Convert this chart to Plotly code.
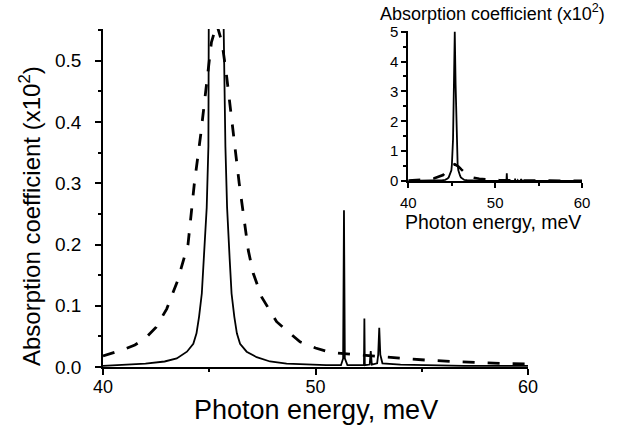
import plotly.graph_objects as go

# Photon energy (meV) and absorption coefficient (x10^2)
solid_x = [40.0, 41.0, 42.0, 42.9, 43.47, 43.95, 44.25, 44.4, 44.52, 44.65, 44.74, 44.88,
           44.96, 45.02, 45.15, 45.25, 45.35, 45.45, 45.55, 45.68, 45.76, 45.84, 45.96,
           46.05, 46.18, 46.3, 46.45, 46.76, 47.23, 47.86, 48.64, 49.9, 50.5, 51.2,
           51.3, 51.34, 51.38, 51.5, 52.28, 52.3, 52.32, 52.55, 52.6, 52.65, 52.9,
           52.95, 53.0, 53.05, 53.15, 54.0, 55.0, 57.0, 60.0]
solid_y = [0.002, 0.004, 0.0055, 0.009, 0.014, 0.025, 0.038, 0.055, 0.082, 0.12, 0.177, 0.26,
           0.36, 0.55, 1.4, 3.2, 5.0, 3.2, 1.4, 0.55, 0.36, 0.26, 0.177,
           0.12, 0.082, 0.055, 0.038, 0.025, 0.016, 0.009, 0.0055, 0.003, 0.003, 0.003,
           0.014, 0.256, 0.014, 0.003, 0.003, 0.079, 0.003, 0.004, 0.026, 0.004, 0.006,
           0.02, 0.064, 0.02, 0.006, 0.004, 0.003, 0.002, 0.002]

dashed_x = [40.0, 40.5, 41.0, 41.5, 42.0, 42.5, 43.0, 43.5, 44.0, 44.3, 44.6, 44.9,
            45.1, 45.35, 45.6, 45.8, 46.1, 46.41, 46.84, 47.07, 47.47, 48.17, 49.27,
            50.0, 50.5, 51.0, 51.75, 52.8, 54.0, 55.3, 56.5, 57.8, 59.0, 60.0]
dashed_y = [0.018, 0.023, 0.029, 0.036, 0.047, 0.065, 0.095, 0.14, 0.2, 0.3, 0.38, 0.47,
            0.53, 0.56, 0.53, 0.48, 0.39, 0.3, 0.19, 0.153, 0.114, 0.074, 0.041,
            0.031, 0.026, 0.023, 0.0207, 0.0175, 0.014, 0.011, 0.009, 0.007, 0.0055, 0.005]

main_xticks = [40, 50, 60]
main_yticks = [0.0, 0.1, 0.2, 0.3, 0.4, 0.5]
inset_xticks = [40, 50, 60]
inset_yticks = [0, 1, 2, 3, 4, 5]

FONT = "Arial, Liberation Sans, sans-serif"
DASH = "12px,13px"

fig = go.Figure()
fig.add_trace(go.Scatter(x=dashed_x, y=dashed_y, mode="lines",
                         line=dict(color="black", width=2.8, dash=DASH),
                         xaxis="x", yaxis="y", showlegend=False))
fig.add_trace(go.Scatter(x=solid_x, y=solid_y, mode="lines",
                         line=dict(color="black", width=1.8),
                         xaxis="x", yaxis="y", showlegend=False))
fig.add_trace(go.Scatter(x=dashed_x, y=dashed_y, mode="lines",
                         line=dict(color="black", width=2.6, dash=DASH),
                         xaxis="x2", yaxis="y2", showlegend=False))
fig.add_trace(go.Scatter(x=solid_x, y=solid_y, mode="lines",
                         line=dict(color="black", width=1.8),
                         xaxis="x2", yaxis="y2", showlegend=False))

W, H = 629, 432
L, R, T, B = 103, 47, 29, 65
pw, ph = W - L - R, H - T - B


def px(x):
    return (x - L) / pw


def py(y):
    return (H - B - y) / ph


axis_common = dict(showline=True, linecolor="black", linewidth=1.8, ticks="outside",
                   tickcolor="black", tickwidth=1.5, showgrid=False, zeroline=False,
                   mirror=False)

fig.update_layout(
    width=W, height=H,
    margin=dict(l=L, r=R, t=T, b=B, autoexpand=False),
    paper_bgcolor="white", plot_bgcolor="rgba(0,0,0,0)",
    font=dict(family=FONT, color="black"),
    xaxis=dict(domain=[0, px(528)], range=[40, 60], tickvals=main_xticks,
               ticklen=6, tickfont=dict(size=18), anchor="y", ticklabelstandoff=-4,
               minor=dict(dtick=5, tick0=40, ticklen=3, ticks="outside", tickcolor="black", tickwidth=1.5),
               **axis_common),
    yaxis=dict(domain=[0, 1], range=[0, 0.552], tickvals=main_yticks, tickformat=".1f",
               ticklen=6, tickfont=dict(size=19), anchor="x", ticklabelstandoff=10,
               minor=dict(dtick=0.05, tick0=0, ticklen=3, ticks="outside", tickcolor="black", tickwidth=1.5),
               **axis_common),
    xaxis2=dict(domain=[px(408.3), 1.0], range=[40, 60], tickvals=inset_xticks,
                ticklen=5, tickfont=dict(size=15), anchor="y2", ticklabelstandoff=2,
                minor=dict(dtick=5, tick0=40, ticklen=3, ticks="outside", tickcolor="black", tickwidth=1.5),
                **axis_common),
    yaxis2=dict(domain=[py(181), py(30.8)], range=[0, 5.03], tickvals=inset_yticks,
                ticklen=5, tickfont=dict(size=15), anchor="x2",
                minor=dict(dtick=0.5, tick0=0, ticklen=3, ticks="outside", tickcolor="black", tickwidth=1.5),
                **axis_common),
    annotations=[
        dict(text="Absorption coefficient (x10<sup>2</sup>)", textangle=-90,
             x=px(30), y=py(216), xref="paper", yref="paper",
             xanchor="center", yanchor="middle", showarrow=False,
             font=dict(size=24, family=FONT, color="black")),
        dict(text="Photon energy, meV",
             x=px(315.8), y=py(410), xref="paper", yref="paper",
             xanchor="center", yanchor="middle", showarrow=False,
             font=dict(size=27, family=FONT, color="black")),
        dict(text="Absorption coefficient (x10<sup>2</sup>)",
             x=px(492.5), y=py(13), xref="paper", yref="paper",
             xanchor="center", yanchor="middle", showarrow=False,
             font=dict(size=18, family=FONT, color="black")),
        dict(text="Photon energy, meV",
             x=px(492.5), y=py(222), xref="paper", yref="paper",
             xanchor="center", yanchor="middle", showarrow=False,
             font=dict(size=19.5, family=FONT, color="black")),
    ],
)

fig.write_html("out.html", config={"displayModeBar": False},
               post_script="document.body.style.margin='0px';")
